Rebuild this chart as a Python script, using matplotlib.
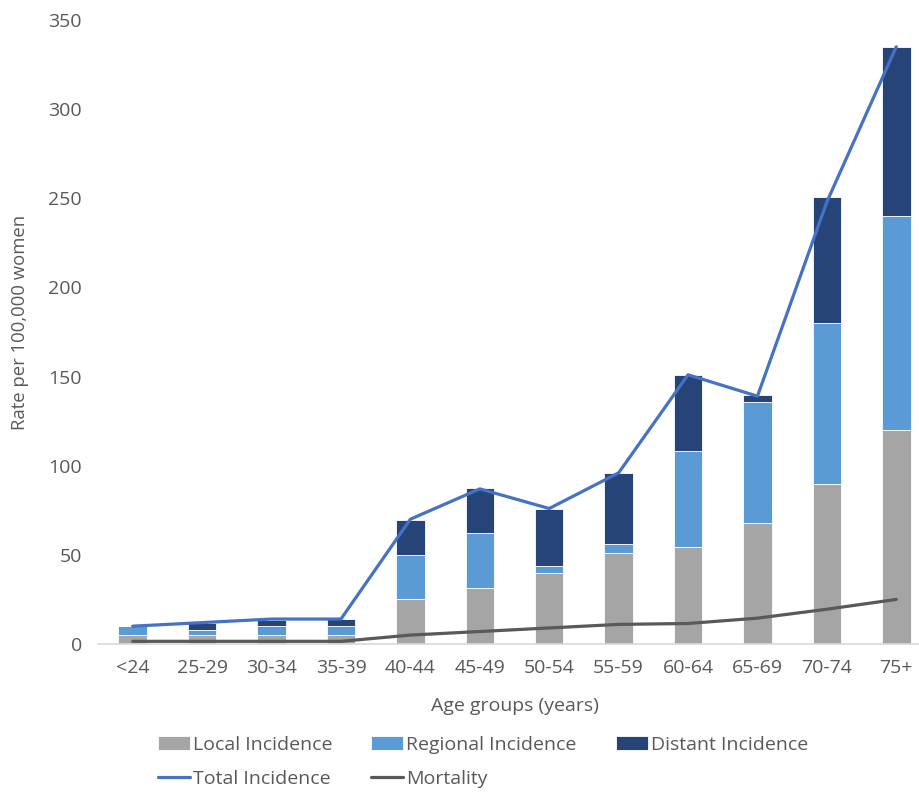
import matplotlib.pyplot as plt
import numpy as np

plt.rcParams['font.family'] = ['Open Sans', 'DejaVu Sans']

# age groups and rates per 100,000 women
ages = ['<24', '25-29', '30-34', '35-39', '40-44', '45-49',
        '50-54', '55-59', '60-64', '65-69', '70-74', '75+']
local = [5, 5, 5, 5, 25, 31.5, 40, 51, 54.5, 68, 90, 120]
regional = [5, 3, 5, 5, 25, 31, 4, 5, 54, 68, 90, 120]
distant = [0, 3.5, 3.5, 4, 19.5, 25, 31.5, 40, 42.5, 3.5, 71, 95]
total = [10, 12, 14, 14, 70, 87, 76, 96, 151, 139, 248, 335]
mortality = [1.5, 1.5, 1.5, 1.5, 5, 7, 9, 11, 11.5, 14.5, 19.5, 25]

c_local = '#A5A5A5'
c_reg = '#5B9BD5'
c_dist = '#264478'
c_total = '#4472C4'
c_mort = '#595959'
txt = '#595959'
fs = 14

fig = plt.figure(figsize=(9.19, 7.92), dpi=100)
ax = fig.add_axes([98 / 919, 148 / 792, 833 / 919, 624 / 792])

x = np.arange(len(ages))
w = 0.41
local = np.array(local)
regional = np.array(regional)
distant = np.array(distant)

b1 = ax.bar(x, local, w, color=c_local, edgecolor='white', linewidth=0.6, label='Local Incidence')
b2 = ax.bar(x, regional, w, bottom=local, color=c_reg, edgecolor='white', linewidth=0.6,
            label='Regional Incidence')
b3 = ax.bar(x, distant, w, bottom=local + regional, color=c_dist, edgecolor='white',
            linewidth=0.6, label='Distant Incidence')
l1, = ax.plot(x, total, color=c_total, lw=2.3, label='Total Incidence', solid_capstyle='round')
l2, = ax.plot(x, mortality, color=c_mort, lw=2.3, label='Mortality', solid_capstyle='round')

ax.set_xlim(-0.5, 11.5)
ax.set_ylim(0, 350)
ax.set_yticks(np.arange(0, 351, 50))
ax.set_xticks(x)
ax.set_xticklabels(ages)

for s in ['top', 'right', 'left']:
    ax.spines[s].set_visible(False)
ax.spines['bottom'].set_color('#D9D9D9')
ax.spines['bottom'].set_linewidth(1.2)
ax.tick_params(axis='both', length=0, colors=txt, labelsize=fs)
ax.tick_params(axis='y', pad=11.5)
ax.tick_params(axis='x', pad=10.5)

fig.text(20 / 919, 1 - 322 / 792, 'Rate per 100,000 women', rotation=90,
         ha='center', va='center', fontsize=13.3, color=txt)
fig.text(515 / 919, 1 - 706 / 792, 'Age groups (years)', ha='center', va='center',
         fontsize=fs, color=txt)

leg = fig.legend([b1, l1, b2, l2, b3],
                 ['Local Incidence', 'Total Incidence', 'Regional Incidence', 'Mortality',
                  'Distant Incidence'],
                 ncol=3, loc='center left', bbox_to_anchor=(158 / 919, 1 - 762 / 792),
                 frameon=False, fontsize=fs, handlelength=1.65, handleheight=0.72,
                 handletextpad=0.15, columnspacing=2.0, labelspacing=0.85,
                 borderaxespad=0, borderpad=0)
for t in leg.get_texts():
    t.set_color(txt)

fig.savefig('out.png', dpi=100)
